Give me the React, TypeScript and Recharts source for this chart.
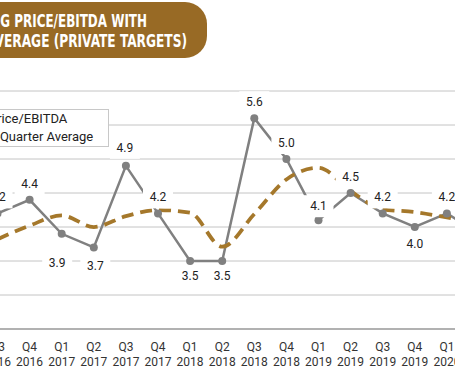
import React from "react";
import {
  LineChart,
  Line,
  XAxis,
  YAxis,
  CartesianGrid,
  Legend,
  LabelList,
} from "recharts";

const quarters = [
  "Q3 2016", "Q4 2016", "Q1 2017", "Q2 2017", "Q3 2017", "Q4 2017",
  "Q1 2018", "Q2 2018", "Q3 2018", "Q4 2018", "Q1 2019", "Q2 2019",
  "Q3 2019", "Q4 2019", "Q1 2020", "Q2 2020",
];
const priceEbitda = [4.2, 4.4, 3.9, 3.7, 4.9, 4.2, 3.5, 3.5, 5.6, 5.0, 4.1, 4.5, 4.2, 4.0, 4.2, 3.9];
const fourQuarterAvg = [3.82, 4.02, 4.17, 4.0, 4.16, 4.25, 4.21, 3.71, 4.19, 4.7, 4.87, 4.53, 4.26, 4.22, 4.14, 4.05];
const yTicks = [2.5, 3, 3.5, 4, 4.5, 5, 5.5, 6];
const seriesNames = ["Price/EBITDA", "4-Quarter Average"];
const titleLines = [
  "MEDIAN TRAILING PRICE/EBITDA WITH",
  "FOUR-QUARTER AVERAGE (PRIVATE TARGETS)",
];

// label placement (dx, dy from the point), hand-placed like the original
const labelShift = [
  [0, -16], [0, -16], [-4.5, 29], [1.5, 18.5], [-1, -18], [0, -16],
  [0, 15], [0, 15], [0, -16], [0, -16], [0, -14], [0, -16],
  [0, -16], [0, 17], [0, -16], [0, -16],
];

const GRAY = "#808080";
const GOLD = "#A5782B";
const BANNER = "#986A25";
const FONT = "Roboto, 'Noto Sans', sans-serif";
const TITLE_FONT = "'DejaVu Sans Condensed', 'DejaVu Sans', sans-serif";

const data = quarters.map((q, i) => ({
  quarter: q,
  price: priceEbitda[i],
  avg: fourQuarterAvg[i],
}));

const QuarterTick = (props: any) => {
  const { x, y, payload } = props;
  const [q, yr] = String(payload.value).split(" ");
  return (
    <text x={x} y={y} textAnchor="middle" fill="#333" fontSize={12} fontFamily={FONT}>
      <tspan x={x} dy={14}>{q}</tspan>
      <tspan x={x} dy={15}>{yr}</tspan>
    </text>
  );
};

const PointLabel = (props: any) => {
  const { value, index } = props;
  const px = props.x ?? props.viewBox?.x;
  const py = props.y ?? props.viewBox?.y;
  if (px == null || py == null) return null;
  const [dx, dy] = labelShift[index] ?? [0, -16];
  const cx = px + dx;
  const cy = py + dy;
  return (
    <g>
      <rect x={cx - 15} y={cy - 11} width={30} height={22} fill="#fff" />
      <text
        x={cx}
        y={cy}
        textAnchor="middle"
        dominantBaseline="central"
        fontSize={12}
        fill="#222"
        fontFamily={FONT}
      >
        {Number(value).toFixed(1)}
      </text>
    </g>
  );
};

const LegendBox = (props: any) => {
  const { payload = [] } = props;
  const items = seriesNames
    .map((n) => payload.find((p: any) => p.value === n))
    .filter(Boolean);
  return (
    <div
      style={{
        width: 163,
        boxSizing: "border-box",
        background: "#fff",
        border: "1px solid #c8c8c8",
        padding: "0 0 0 6px",
        fontFamily: FONT,
        fontSize: 13,
        color: "#222",
        lineHeight: "18px",
      }}
    >
      {items.map((entry: any) => {
        const dashed = entry.dataKey === "avg";
        return (
          <div key={entry.value} style={{ display: "flex", alignItems: "center", whiteSpace: "nowrap" }}>
            <svg width={30} height={10} style={{ marginRight: 6, flex: "none" }}>
              <line
                x1={0}
                y1={5}
                x2={30}
                y2={5}
                stroke={entry.color}
                strokeWidth={dashed ? 3.5 : 2.5}
                strokeDasharray={dashed ? "8 4" : undefined}
              />
            </svg>
            <span>{entry.value}</span>
          </div>
        );
      })}
    </div>
  );
};

export default function App() {
  return (
    <div
      style={{
        position: "absolute",
        left: 0,
        top: 0,
        width: 455,
        height: 380,
        overflow: "hidden",
        background: "#fff",
      }}
    >
      <div style={{ position: "absolute", left: -40, top: 0 }}>
        <LineChart
          width={560}
          height={380}
          data={data}
          margin={{ top: 91, right: 0, bottom: 0, left: 0 }}
        >
          <CartesianGrid vertical={false} stroke="#c4c4c4" strokeWidth={1} />
          <YAxis hide domain={[2.5, 6]} ticks={yTicks} />
          <XAxis
            dataKey="quarter"
            interval={0}
            height={51}
            padding={{ left: 37.5, right: 41 }}
            tickLine={false}
            axisLine={{ stroke: "#a0a0a0", strokeWidth: 1.5 }}
            tick={<QuarterTick />}
          />
          <Legend
            layout="vertical"
            align="center"
            verticalAlign="middle"
            content={<LegendBox />}
            wrapperStyle={{ left: -14, top: 109, width: 163 }}
          />
          <Line
            name={seriesNames[0]}
            dataKey="price"
            type="linear"
            stroke={GRAY}
            strokeWidth={2.5}
            dot={{ r: 4, fill: GRAY, stroke: GRAY, strokeWidth: 0 }}
            isAnimationActive={false}
          />
          <Line
            name={seriesNames[1]}
            dataKey="avg"
            type="monotone"
            stroke={GOLD}
            strokeWidth={3.75}
            strokeDasharray="12 7"
            dot={false}
            isAnimationActive={false}
          />
          <Line
            name="labels"
            legendType="none"
            dataKey="price"
            stroke="none"
            dot={false}
            activeDot={false}
            isAnimationActive={false}
          >
            <LabelList dataKey="price" content={<PointLabel />} />
          </Line>
        </LineChart>
      </div>
      <svg width={455} height={62} style={{ position: "absolute", left: 0, top: 0 }}>
        <rect x={-80} y={2} width={287} height={56} rx={22} fill={BANNER} />
        <text
          transform="translate(147,27) scale(0.76,1)"
          textAnchor="end"
          fill="#fff"
          fontSize={17.5}
          fontWeight="bold"
          fontFamily={TITLE_FONT}
        >
          {titleLines[0]}
        </text>
        <text
          transform="translate(187,47) scale(0.775,1)"
          textAnchor="end"
          fill="#fff"
          fontSize={17.5}
          fontWeight="bold"
          fontFamily={TITLE_FONT}
        >
          {titleLines[1]}
        </text>
      </svg>
    </div>
  );
}
